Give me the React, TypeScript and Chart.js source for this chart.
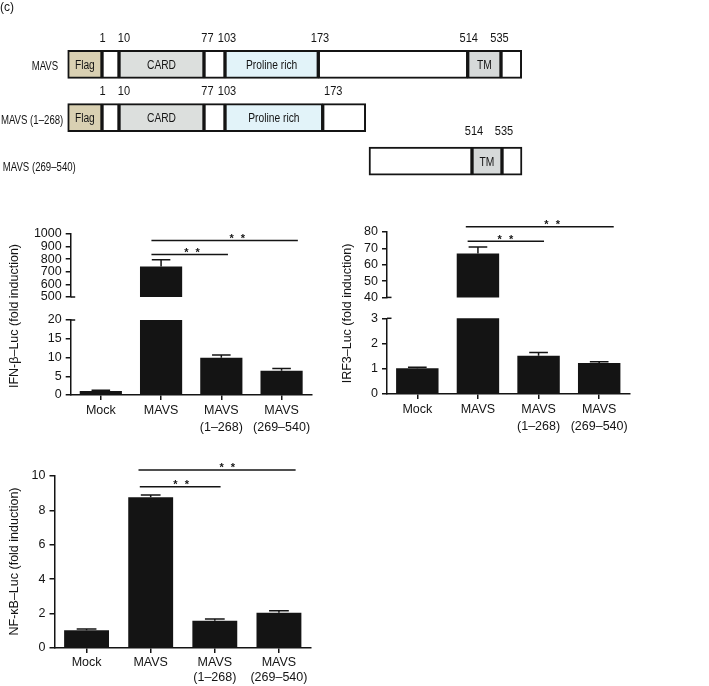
import React, { useEffect, useRef } from 'react';
import { Chart, registerables } from 'chart.js';

Chart.register(...registerables);

const FONT = '"Liberation Sans", Arial, Helvetica, sans-serif';
const INK = '#141414';

// ---------- domain diagram data (schematic units along the construct) ----------
const rowLabels = ['MAVS', 'MAVS (1–268)', 'MAVS (269–540)'];
const rowPos = [0, 66.5, 121];
const fullBounds = [0, 34.3, 51.3, 136.3, 157.3, 250.6, 400, 433.3, 454];
const fullDomains = ['Flag', '', 'CARD', '', 'Proline rich', '', 'TM', ''];
const nTermBounds = [0, 34.3, 51.3, 136.3, 157.3, 255, 298];
const nTermDomains = ['Flag', '', 'CARD', '', 'Proline rich', ''];
const cTermBounds = [301.3, 404.3, 434.3, 454.3];
const cTermDomains = ['', 'TM', ''];
const fullResidues = ['1', '10', '77', '103', '173', '514', '535'];
const fullResiduePos = [34.8, 56.3, 139.8, 159.3, 252.3, 401, 431.8];
const nTermResidues = ['1', '10', '77', '103', '173'];
const nTermResiduePos = [34.8, 56.3, 139.8, 159.3, 265.6];
const cTermResidues = ['514', '535'];
const cTermResiduePos = [406.3, 436.3];

// ---------- luciferase data ----------
const categories = [['Mock'], ['MAVS'], ['MAVS', '(1–268)'], ['MAVS', '(269–540)']];

const ifnValues = [1.1, 742, 9.95, 6.5];
const ifnErrors = [0.15, 53, 0.75, 0.6];
const ifnUpperTicks = { min: 500, max: 1000, step: 100 };
const ifnLowerTicks = { min: 0, max: 20, step: 5 };
const ifnBracketFrom = [0.84, 0.84];
const ifnBracketTo = [3.27, 2.11];
const ifnBracketY = [948, 837];
const ifnStarPos = [2.28, 1.53];

const irfValues = [1.02, 66.8, 1.52, 1.23];
const irfErrors = [0.04, 4.1, 0.12, 0.05];
const irfUpperTicks = { min: 40, max: 80, step: 10 };
const irfLowerTicks = { min: 0, max: 3, step: 1 };
const irfBracketFrom = [0.8, 0.83];
const irfBracketTo = [3.24, 2.09];
const irfBracketY = [83.2, 74.3];
const irfStarPos = [2.24, 1.47];

const nfValues = [1.03, 8.76, 1.59, 2.05];
const nfErrors = [0.07, 0.14, 0.1, 0.12];
const nfTicks = { min: 0, max: 10, step: 2 };
const nfBracketFrom = [0.81, 0.83];
const nfBracketTo = [3.26, 2.09];
const nfBracketY = [10.35, 9.38];
const nfStarPos = [2.21, 1.49];

const domainColor: Record<string, string> = {
  Flag: '#d9d0b2',
  CARD: '#dcdfdd',
  'Proline rich': '#e2f3f9',
  TM: '#d6d9d9',
  '': '#ffffff',
};

type Box = { x: number; y: number; w: number; h: number };
type Area = { l: number; t: number; r: number; b: number };

function ChartBox({ box, make }: { box: Box; make: () => any }) {
  const ref = useRef<HTMLCanvasElement>(null);
  useEffect(() => {
    const chart = new Chart(ref.current as HTMLCanvasElement, make());
    return () => chart.destroy();
  }, []);
  return (
    <canvas
      ref={ref}
      width={box.w}
      height={box.h}
      style={{ position: 'absolute', left: box.x, top: box.y, width: box.w, height: box.h }}
    />
  );
}

// draws condensed text (the figure uses a narrow sans face)
function narrowText(ctx: CanvasRenderingContext2D, t: string, x: number, y: number, squeeze: number) {
  ctx.save();
  ctx.translate(x, y);
  ctx.scale(squeeze, 1);
  ctx.fillText(t, 0, 0);
  ctx.restore();
}

function diagramConfig() {
  const rows = [
    { b: fullBounds, d: fullDomains, res: fullResidues, rp: fullResiduePos, lift: 25.5 },
    { b: nTermBounds, d: nTermDomains, res: nTermResidues, rp: nTermResiduePos, lift: 26 },
    { b: cTermBounds, d: cTermDomains, res: cTermResidues, rp: cTermResiduePos, lift: 29.8 },
  ];
  const labelAnchor = [-9.5, -4.4, -65];
  const labelAlign: CanvasTextAlign[] = ['right', 'right', 'left'];
  const labelDrop = [2.5, 3, 6.5];
  const segs: any[] = [];
  const colors: string[] = [];
  const names: string[] = [];
  rows.forEach((row, r) => {
    for (let j = 0; j < row.d.length; j++) {
      segs.push({ x: [row.b[j], row.b[j + 1]], y: rowPos[r] });
      colors.push(domainColor[row.d[j]]);
      names.push(row.d[j]);
    }
  });
  const textPlugin = {
    id: 'diagramText',
    afterDatasetsDraw(chart: any) {
      const ctx = chart.ctx;
      const xs = chart.scales.x;
      const ys = chart.scales.y;
      ctx.save();
      ctx.fillStyle = INK;
      ctx.textBaseline = 'middle';
      ctx.font = `12px ${FONT}`;
      ctx.textAlign = 'left';
      ctx.fillText('(c)', 0, 8);
      ctx.font = `12.5px ${FONT}`;
      const meta = chart.getDatasetMeta(0);
      meta.data.forEach((el: any, i: number) => {
        if (!names[i]) return;
        ctx.textAlign = 'center';
        narrowText(ctx, names[i], (el.x + el.base) / 2, el.y + 1, 0.82);
      });
      rows.forEach((row, r) => {
        const yc = ys.getPixelForValue(rowPos[r]);
        ctx.textAlign = 'center';
        ctx.font = `12px ${FONT}`;
        row.res.forEach((t, k) => narrowText(ctx, t, xs.getPixelForValue(row.rp[k]), yc - row.lift, 0.92));
        ctx.font = `12.5px ${FONT}`;
        ctx.textAlign = labelAlign[r];
        narrowText(ctx, rowLabels[r], xs.getPixelForValue(labelAnchor[r]), yc + labelDrop[r], 0.77);
      });
      ctx.restore();
    },
  };
  return {
    type: 'bar',
    data: {
      datasets: [
        {
          data: segs,
          backgroundColor: colors,
          borderColor: INK,
          borderWidth: 2,
          borderSkipped: false,
          barThickness: 28,
        },
      ],
    },
    options: {
      indexAxis: 'y',
      animation: false,
      responsive: false,
      maintainAspectRatio: false,
      layout: { padding: 0 },
      plugins: { legend: { display: false }, tooltip: { enabled: false } },
      scales: {
        x: { type: 'linear', display: false, min: -67.7, max: 641.3 },
        y: { type: 'linear', display: false, reverse: true, min: -55.5, max: 144.5 },
      },
    },
    plugins: [textPlugin],
  };
}

type PanelOpts = {
  box: Box;
  area: Area;
  values: number[];
  errors: number[];
  ticks: { min: number; max: number; step: number };
  showX: boolean;
  hideBelowMin?: boolean;
  brackets?: { from: number[]; to: number[]; y: number[]; star: number[] };
  title?: { text: string; x: number; y: number };
  breakMark?: 'top' | 'bottom';
  lineHeight?: number;
};

function panelConfig(p: PanelOpts) {
  const { box, area } = p;
  const yAxisWidth = area.l - box.x;
  const bottomSpace = box.y + box.h - area.b;
  const data = p.values.map((v) => (p.hideBelowMin && v <= p.ticks.min ? null : v));

  const overlay = {
    id: 'overlay',
    afterDatasetsDraw(chart: any) {
      const ctx = chart.ctx;
      const xs = chart.scales.x;
      const ys = chart.scales.y;
      const ca = chart.chartArea;
      ctx.save();
      ctx.strokeStyle = INK;
      ctx.fillStyle = INK;
      ctx.lineWidth = 1.5;
      // error bars
      const meta = chart.getDatasetMeta(0);
      meta.data.forEach((bar: any, i: number) => {
        const v = data[i];
        if (v == null || v > p.ticks.max || v < p.ticks.min) return;
        const y0 = ys.getPixelForValue(v);
        const y1 = ys.getPixelForValue(v + p.errors[i]);
        const half = bar.width * 0.22;
        ctx.beginPath();
        ctx.moveTo(bar.x, y0);
        ctx.lineTo(bar.x, y1);
        ctx.moveTo(bar.x - half, y1);
        ctx.lineTo(bar.x + half, y1);
        ctx.stroke();
      });
      // axis break marks
      if (p.breakMark) {
        const yb = p.breakMark === 'top' ? ca.top : ca.bottom;
        ctx.beginPath();
        ctx.moveTo(ca.left, yb);
        ctx.lineTo(ca.left + 4.5, yb);
        ctx.stroke();
      }
      // significance brackets
      if (p.brackets) {
        const b = p.brackets;
        ctx.font = `bold 11px ${FONT}`;
        ctx.textAlign = 'center';
        ctx.textBaseline = 'alphabetic';
        (ctx as any).letterSpacing = '2px';
        b.from.forEach((f, k) => {
          const y = ys.getPixelForValue(b.y[k]);
          ctx.beginPath();
          ctx.moveTo(xs.getPixelForValue(f), y);
          ctx.lineTo(xs.getPixelForValue(b.to[k]), y);
          ctx.stroke();
          ctx.fillText('* *', xs.getPixelForValue(b.star[k]), y + 1.5);
        });
        (ctx as any).letterSpacing = '0px';
      }
      // axis title
      if (p.title) {
        ctx.font = `12.5px ${FONT}`;
        ctx.textAlign = 'center';
        ctx.textBaseline = 'middle';
        ctx.translate(p.title.x - box.x, p.title.y - box.y);
        ctx.rotate(-Math.PI / 2);
        ctx.fillText(p.title.text, 0, 0);
      }
      ctx.restore();
    },
  };

  return {
    type: 'bar',
    data: {
      labels: categories,
      datasets: [
        {
          data,
          backgroundColor: INK,
          borderWidth: 0,
          categoryPercentage: 1,
          barPercentage: 0.7,
          clip: 0,
        },
      ],
    },
    options: {
      animation: false,
      responsive: false,
      maintainAspectRatio: false,
      layout: {
        padding: {
          left: 0,
          top: area.t - box.y,
          right: box.x + box.w - area.r,
          bottom: p.showX ? 0 : bottomSpace,
        },
      },
      plugins: { legend: { display: false }, tooltip: { enabled: false } },
      scales: {
        x: {
          type: 'category',
          display: p.showX,
          offset: true,
          afterFit(scale: any) {
            scale.height = bottomSpace;
          },
          grid: {
            offset: false,
            drawOnChartArea: false,
            drawTicks: true,
            tickLength: 5,
            color: INK,
            lineWidth: 1.5,
          },
          border: { display: true, color: INK, width: 1.5 },
          ticks: {
            color: INK,
            padding: 2,
            maxRotation: 0,
            autoSkip: false,
            font: { family: FONT, size: 12.5, lineHeight: p.lineHeight ?? 1.35 },
          },
        },
        y: {
          type: 'linear',
          min: p.ticks.min,
          max: p.ticks.max,
          afterFit(scale: any) {
            scale.width = yAxisWidth;
          },
          grid: {
            drawOnChartArea: false,
            drawTicks: true,
            tickLength: 5,
            color: INK,
            lineWidth: 1.5,
          },
          border: { display: true, color: INK, width: 1.5 },
          ticks: {
            stepSize: p.ticks.step,
            autoSkip: false,
            color: INK,
            padding: 4,
            font: { family: FONT, size: 12.5 },
            callback: (v: number) => String(v),
          },
        },
      },
    },
    plugins: [overlay],
  };
}

const ifnTitle = 'IFN-β–Luc (fold induction)';
const irfTitle = 'IRF3–Luc (fold induction)';
const nfTitle = 'NF-κB–Luc (fold induction)';

export default function App() {
  const diagramBox = { x: 0, y: 0, w: 709, h: 200 };
  const ifnLowerBox = { x: 0, y: 200, w: 330, h: 240 };
  const ifnUpperBox = { x: 0, y: 200, w: 330, h: 118 };
  const irfLowerBox = { x: 330, y: 200, w: 330, h: 240 };
  const irfUpperBox = { x: 330, y: 200, w: 330, h: 116 };
  const nfBox = { x: 0, y: 440, w: 330, h: 246 };
  return (
    <div
      style={{
        position: 'absolute',
        left: 0,
        top: 0,
        width: 709,
        height: 686,
        background: '#ffffff',
        overflow: 'hidden',
      }}
    >
      <ChartBox box={diagramBox} make={diagramConfig} />
      <ChartBox
        box={ifnLowerBox}
        make={() =>
          panelConfig({
            box: ifnLowerBox,
            area: { l: 70.7, t: 320, r: 311.7, b: 395 },
            values: ifnValues,
            errors: ifnErrors,
            ticks: ifnLowerTicks,
            showX: true,
            breakMark: 'top',
            title: { text: ifnTitle, x: 15, y: 316 },
            lineHeight: 1.35,
          })
        }
      />
      <ChartBox
        box={ifnUpperBox}
        make={() =>
          panelConfig({
            box: ifnUpperBox,
            area: { l: 70.7, t: 234, r: 311.7, b: 307.5 },
            values: ifnValues,
            errors: ifnErrors,
            ticks: ifnUpperTicks,
            showX: false,
            hideBelowMin: true,
            breakMark: 'bottom',
            brackets: { from: ifnBracketFrom, to: ifnBracketTo, y: ifnBracketY, star: ifnStarPos },
          })
        }
      />
      <ChartBox
        box={irfLowerBox}
        make={() =>
          panelConfig({
            box: irfLowerBox,
            area: { l: 387, t: 318.3, r: 629.5, b: 394 },
            values: irfValues,
            errors: irfErrors,
            ticks: irfLowerTicks,
            showX: true,
            breakMark: 'top',
            title: { text: irfTitle, x: 348, y: 313.5 },
            lineHeight: 1.35,
          })
        }
      />
      <ChartBox
        box={irfUpperBox}
        make={() =>
          panelConfig({
            box: irfUpperBox,
            area: { l: 387, t: 232, r: 629.5, b: 306.7 },
            values: irfValues,
            errors: irfErrors,
            ticks: irfUpperTicks,
            showX: false,
            hideBelowMin: true,
            breakMark: 'bottom',
            brackets: { from: irfBracketFrom, to: irfBracketTo, y: irfBracketY, star: irfStarPos },
          })
        }
      />
      <ChartBox
        box={nfBox}
        make={() =>
          panelConfig({
            box: nfBox,
            area: { l: 54.5, t: 476, r: 311, b: 648 },
            values: nfValues,
            errors: nfErrors,
            ticks: nfTicks,
            showX: true,
            title: { text: nfTitle, x: 15, y: 561.5 },
            brackets: { from: nfBracketFrom, to: nfBracketTo, y: nfBracketY, star: nfStarPos },
            lineHeight: 1.2,
          })
        }
      />
    </div>
  );
}
